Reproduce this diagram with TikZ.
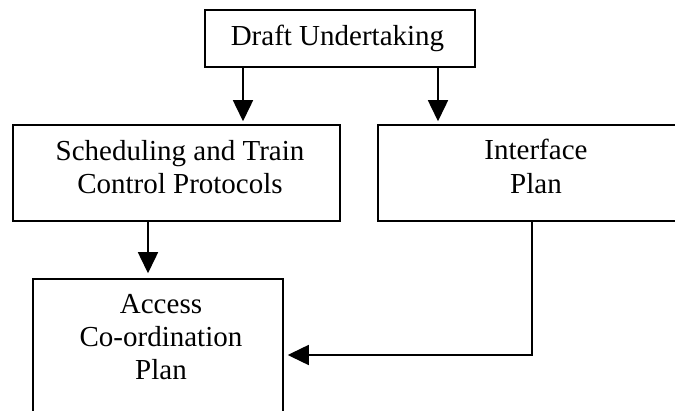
\documentclass[tikz,border=0pt]{standalone}
\usepackage{fontspec}
\setmainfont{Liberation Serif}
\usetikzlibrary{arrows.meta,calc}
\begin{document}
\begin{tikzpicture}[x=1pt,y=-1pt,
  boxnode/.style={draw=black,line width=1.5pt,rectangle,inner sep=0pt},
  txt/.style={align=center,inner sep=0pt,anchor=north,font=\fontsize{29}{33.4}\selectfont},
  arr/.style={line width=1.5pt,-{Triangle[length=21pt,width=20pt]}}]
\useasboundingbox (0,0) rectangle (675,411);
\begin{scope}
\clip (0,0) rectangle (675,411);
% boxes
\node[boxnode,minimum width=270pt,minimum height=57pt] (draft) at (340,38.5) {};
\node[boxnode,minimum width=327pt,minimum height=96pt] (sched) at (176.5,173) {};
\node[boxnode,minimum width=322pt,minimum height=96pt] (iface) at (539,173) {};
\node[boxnode,minimum width=250pt,minimum height=170pt] (access) at (158,364) {};
% texts
\node[txt] (drafttxt) at (337.5,25.2) {Draft Undertaking};
\node[txt] (schedtxt) at (180,140.2) {Scheduling and Train\\Control Protocols};
\node[txt] (ifacetxt) at (536,139.2) {Interface\\Plan};
\node[txt] (accesstxt) at (161,293.8) {Access\\Co-ordination\\Plan};
% helper coordinates
\coordinate (xa) at (243,0);
\coordinate (xb) at (438,0);
\coordinate (xc) at (148,0);
\coordinate (xd) at (532,0);
\coordinate (yd) at (0,355);
% connectors
\draw[arr,shorten >=3pt] (draft.south -| xa) -- (sched.north -| xa);
\draw[arr,shorten >=3pt] (draft.south -| xb) -- (iface.north -| xb);
\draw[arr,shorten >=5pt] (sched.south -| xc) -- (access.north -| xc);
\draw[arr,shorten >=4pt] (iface.south -| xd) -- (xd |- yd) -- (access.east |- yd);
\end{scope}
\end{tikzpicture}
\end{document}
